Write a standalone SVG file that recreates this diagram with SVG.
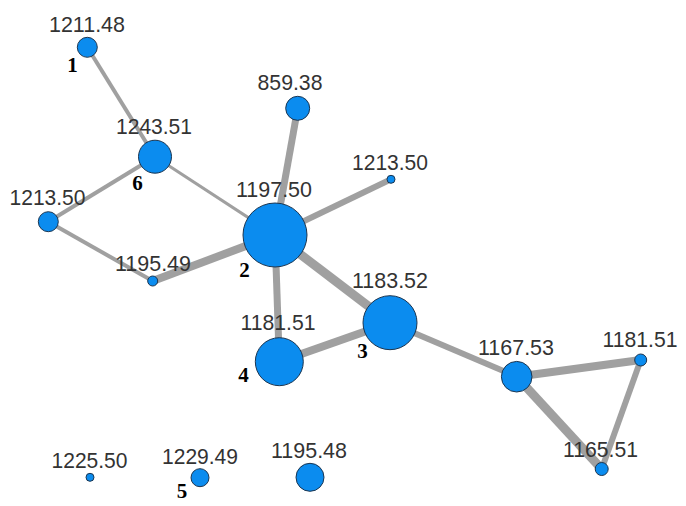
<svg xmlns="http://www.w3.org/2000/svg" width="686" height="506" viewBox="0 0 686 506">
<style>
.lbl{font-family:"Liberation Sans",Arial,sans-serif;font-size:22.5px;fill:#333;text-anchor:middle}
.num{font-family:"Liberation Serif","Times New Roman",serif;font-size:21px;font-weight:bold;fill:#000;text-anchor:middle}
.e{stroke:#a0a0a0;stroke-linecap:butt;fill:none}
.n{fill:#0b8cef;stroke:#1b3550;stroke-width:1}
</style>
<rect width="686" height="506" fill="#fff"/>
<g id="connectors">
<line class="e" x1="87.3" y1="47.3" x2="155" y2="156.7" stroke-width="4"/>
<line class="e" x1="155" y1="156.7" x2="275" y2="235" stroke-width="3"/>
<line class="e" x1="155" y1="156.7" x2="48.3" y2="221.7" stroke-width="4"/>
<line class="e" x1="48.3" y1="221.7" x2="152.7" y2="281" stroke-width="4"/>
<line class="e" x1="152.7" y1="281" x2="275" y2="235" stroke-width="8"/>
<line class="e" x1="297.7" y1="108.3" x2="275" y2="235" stroke-width="7"/>
<line class="e" x1="391" y1="179.3" x2="275" y2="235" stroke-width="6"/>
<line class="e" x1="275" y1="235" x2="390" y2="322.7" stroke-width="9"/>
<line class="e" x1="275" y1="235" x2="279.3" y2="361.7" stroke-width="7"/>
<line class="e" x1="279.3" y1="361.7" x2="390" y2="322.7" stroke-width="8"/>
<line class="e" x1="390" y1="322.7" x2="516.7" y2="376.7" stroke-width="6"/>
<line class="e" x1="516.7" y1="376.7" x2="640.7" y2="360" stroke-width="8"/>
<line class="e" x1="516.7" y1="376.7" x2="601.7" y2="469" stroke-width="9"/>
<line class="e" x1="640.7" y1="360" x2="601.7" y2="469" stroke-width="6"/>
</g>
<g id="n1211_48"><circle class="n" cx="87.3" cy="47.3" r="10"/><text class="lbl" x="87" y="32" textLength="76" lengthAdjust="spacingAndGlyphs">1211.48</text><text class="num" x="72.5" y="72">1</text></g>
<g id="n1243_51"><circle class="n" cx="155" cy="156.7" r="16.5"/><text class="lbl" x="154" y="134" textLength="76" lengthAdjust="spacingAndGlyphs">1243.51</text><text class="num" x="137.5" y="190">6</text></g>
<g id="n1213_50a"><circle class="n" cx="48.3" cy="221.7" r="10"/><text class="lbl" x="47.5" y="205" textLength="76" lengthAdjust="spacingAndGlyphs">1213.50</text></g>
<g id="n1195_49"><circle class="n" cx="152.7" cy="281" r="5"/><text class="lbl" x="153" y="271" textLength="76" lengthAdjust="spacingAndGlyphs">1195.49</text></g>
<g id="n859_38"><circle class="n" cx="297.7" cy="108.3" r="12"/><text class="lbl" x="290" y="90" textLength="65" lengthAdjust="spacingAndGlyphs">859.38</text></g>
<g id="n1197_50"><circle class="n" cx="275" cy="235" r="32"/><text class="lbl" x="274" y="197" textLength="76" lengthAdjust="spacingAndGlyphs">1197.50</text><text class="num" x="244.5" y="277">2</text></g>
<g id="n1213_50b"><circle class="n" cx="391" cy="179.3" r="4"/><text class="lbl" x="390" y="170" textLength="76" lengthAdjust="spacingAndGlyphs">1213.50</text></g>
<g id="n1183_52"><circle class="n" cx="390" cy="322.7" r="27"/><text class="lbl" x="390" y="288" textLength="76" lengthAdjust="spacingAndGlyphs">1183.52</text><text class="num" x="362.5" y="358">3</text></g>
<g id="n1181_51a"><circle class="n" cx="279.3" cy="361.7" r="24"/><text class="lbl" x="278" y="330" textLength="75" lengthAdjust="spacingAndGlyphs">1181.51</text><text class="num" x="243.5" y="382">4</text></g>
<g id="n1167_53"><circle class="n" cx="516.7" cy="376.7" r="15.3"/><text class="lbl" x="516" y="355" textLength="76" lengthAdjust="spacingAndGlyphs">1167.53</text></g>
<g id="n1181_51b"><circle class="n" cx="640.7" cy="360" r="6"/><text class="lbl" x="640" y="347" textLength="75" lengthAdjust="spacingAndGlyphs">1181.51</text></g>
<g id="n1165_51"><circle class="n" cx="601.7" cy="469" r="6.5"/><text class="lbl" x="600.5" y="457" textLength="75" lengthAdjust="spacingAndGlyphs">1165.51</text></g>
<g id="n1225_50"><circle class="n" cx="90" cy="477.3" r="4"/><text class="lbl" x="89.5" y="468" textLength="76" lengthAdjust="spacingAndGlyphs">1225.50</text></g>
<g id="n1229_49"><circle class="n" cx="200" cy="477.7" r="9"/><text class="lbl" x="200" y="464" textLength="76" lengthAdjust="spacingAndGlyphs">1229.49</text><text class="num" x="182" y="498">5</text></g>
<g id="n1195_48"><circle class="n" cx="310" cy="477.3" r="14"/><text class="lbl" x="309" y="458" textLength="76" lengthAdjust="spacingAndGlyphs">1195.48</text></g>
</svg>
